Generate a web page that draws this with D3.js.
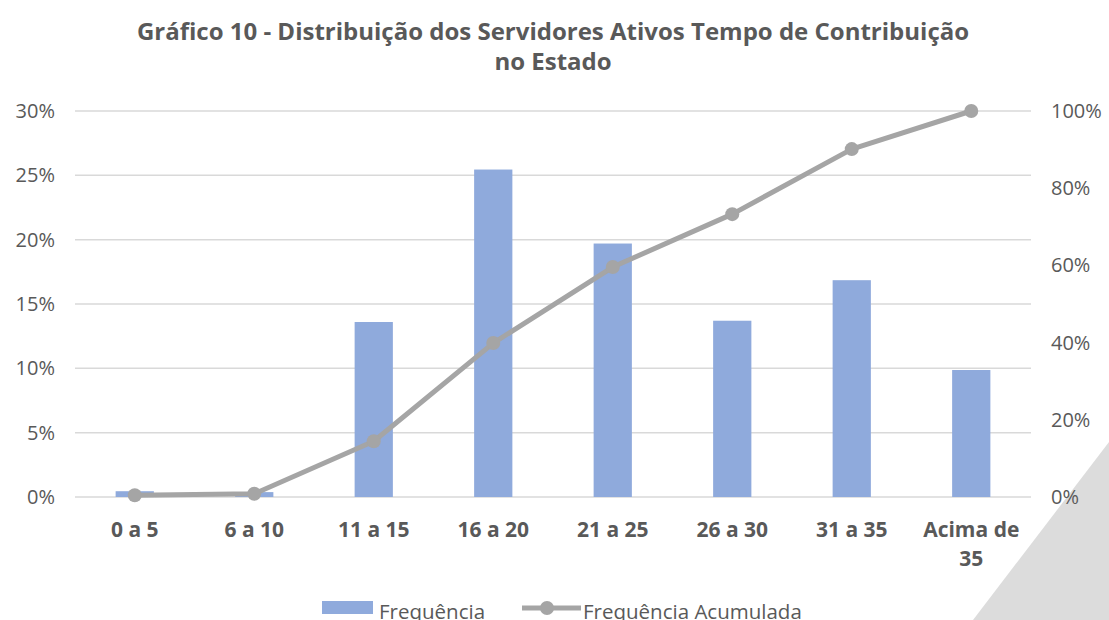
<!DOCTYPE html>
<html>
<head>
<meta charset="utf-8">
<style>
    body { margin: 0; background: #fff; }
    text { font-family: "Open Sans", sans-serif; fill: #595959; }
    .title { font-size: 24px; font-weight: bold; }
    .xlab { font-size: 21px; font-weight: bold; }
    .legend text { font-size: 20.5px; }
</style>
</head>
<body>
<svg width="1109" height="620"></svg>
<script src="https://d3js.org/d3.v7.min.js"></script>
<script>
    var categorias = ["0 a 5", "6 a 10", "11 a 15", "16 a 20", "21 a 25", "26 a 30", "31 a 35", "Acima de 35"];
    var frequencia = [0.0045, 0.0038, 0.136, 0.2545, 0.197, 0.137, 0.1685, 0.0987];
    var acumulada = [0.0045, 0.0083, 0.1443, 0.3988, 0.5958, 0.7328, 0.9013, 1.0];
    var ticksEsq = [0, 0.05, 0.10, 0.15, 0.20, 0.25, 0.30];
    var ticksDir = [0, 0.2, 0.4, 0.6, 0.8, 1.0];

    var svg = d3.select("svg");
    var mLeft = 75, mRight = 1031, mTop = 111, mBottom = 497;

    // fundo triangular no canto
    svg.append("path")
        .attr("d", "M1109,442L973,620L1109,620Z")
        .attr("fill", "#dcdcdc");

    svg.append("text").attr("class", "title")
        .attr("text-anchor", "middle")
        .selectAll("tspan")
        .data(["Gráfico 10 - Distribuição dos Servidores Ativos Tempo de Contribuição", "no Estado"])
        .enter().append("tspan")
        .attr("x", 553)
        .attr("y", function(d, i) { return 40 + i * 30; })
        .text(function(d) { return d; });

    var x = d3.scaleBand().domain(categorias).range([mLeft, mRight]);
    var y = d3.scaleLinear().domain([0, 0.30]).range([mBottom, mTop]);
    var y2 = d3.scaleLinear().domain([0, 1]).range([mBottom, mTop]);

    // grade
    svg.append("g").selectAll("line")
        .data(ticksEsq)
        .enter().append("line")
        .attr("x1", mLeft).attr("x2", mRight)
        .attr("y1", function(d) { return y(d); })
        .attr("y2", function(d) { return y(d); })
        .attr("stroke", "#d9d9d9")
        .attr("stroke-width", 1.5);

    var eixoEsq = svg.append("g")
        .attr("transform", "translate(" + (mLeft - 12) + ",0)")
        .call(d3.axisLeft(y).tickValues(ticksEsq).tickFormat(d3.format(".0%")).tickSize(0).tickPadding(8));
    eixoEsq.select(".domain").remove();

    var eixoDir = svg.append("g")
        .attr("transform", "translate(" + (mRight + 12) + ",0)")
        .call(d3.axisRight(y2).tickValues(ticksDir).tickFormat(d3.format(".0%")).tickSize(0).tickPadding(8));
    eixoDir.select(".domain").remove();
    svg.selectAll(".tick text")
        .attr("fill", "#595959")
        .style("font-family", "'Open Sans', sans-serif")
        .style("font-size", "20px");

    // barras
    var bw = x.bandwidth() * 0.32;
    svg.append("g").selectAll("rect")
        .data(frequencia)
        .enter().append("rect")
        .attr("x", function(d, i) { return x(categorias[i]) + x.bandwidth() / 2 - bw / 2; })
        .attr("y", function(d) { return y(d); })
        .attr("width", bw)
        .attr("height", function(d) { return mBottom - y(d); })
        .attr("fill", "#8faadc");

    // linha acumulada
    var cx = function(d, i) { return x(categorias[i]) + x.bandwidth() / 2; };
    var linha = d3.line().x(cx).y(function(d) { return y2(d); });
    svg.append("path")
        .datum(acumulada)
        .attr("d", linha)
        .attr("fill", "none")
        .attr("stroke", "#a5a5a5")
        .attr("stroke-width", 5)
        .attr("stroke-linejoin", "round");
    svg.append("g").selectAll("circle")
        .data(acumulada)
        .enter().append("circle")
        .attr("cx", cx)
        .attr("cy", function(d) { return y2(d); })
        .attr("r", 7)
        .attr("fill", "#a5a5a5");

    // rótulos do eixo x
    var xl = svg.append("g").selectAll("text")
        .data(categorias)
        .enter().append("text")
        .attr("class", "xlab")
        .attr("text-anchor", "middle");
    xl.each(function(d) {
        var partes = d === "Acima de 35" ? ["Acima de", "35"] : [d];
        var t = d3.select(this);
        partes.forEach(function(p, j) {
            t.append("tspan")
                .attr("x", x(d) + x.bandwidth() / 2)
                .attr("y", 537 + j * 29)
                .text(p);
        });
    });

    // legenda
    var leg = svg.append("g").attr("class", "legend");
    leg.append("rect").attr("x", 322).attr("y", 601).attr("width", 51).attr("height", 13).attr("fill", "#8faadc");
    leg.append("text").attr("x", 379).attr("y", 619).text("Frequência");
    leg.append("line").attr("x1", 522).attr("x2", 581).attr("y1", 608).attr("y2", 608)
        .attr("stroke", "#a5a5a5").attr("stroke-width", 5);
    leg.append("circle").attr("cx", 547).attr("cy", 608).attr("r", 7).attr("fill", "#a5a5a5");
    leg.append("text").attr("x", 583).attr("y", 619).text("Frequência Acumulada");
</script>
</body>
</html>
